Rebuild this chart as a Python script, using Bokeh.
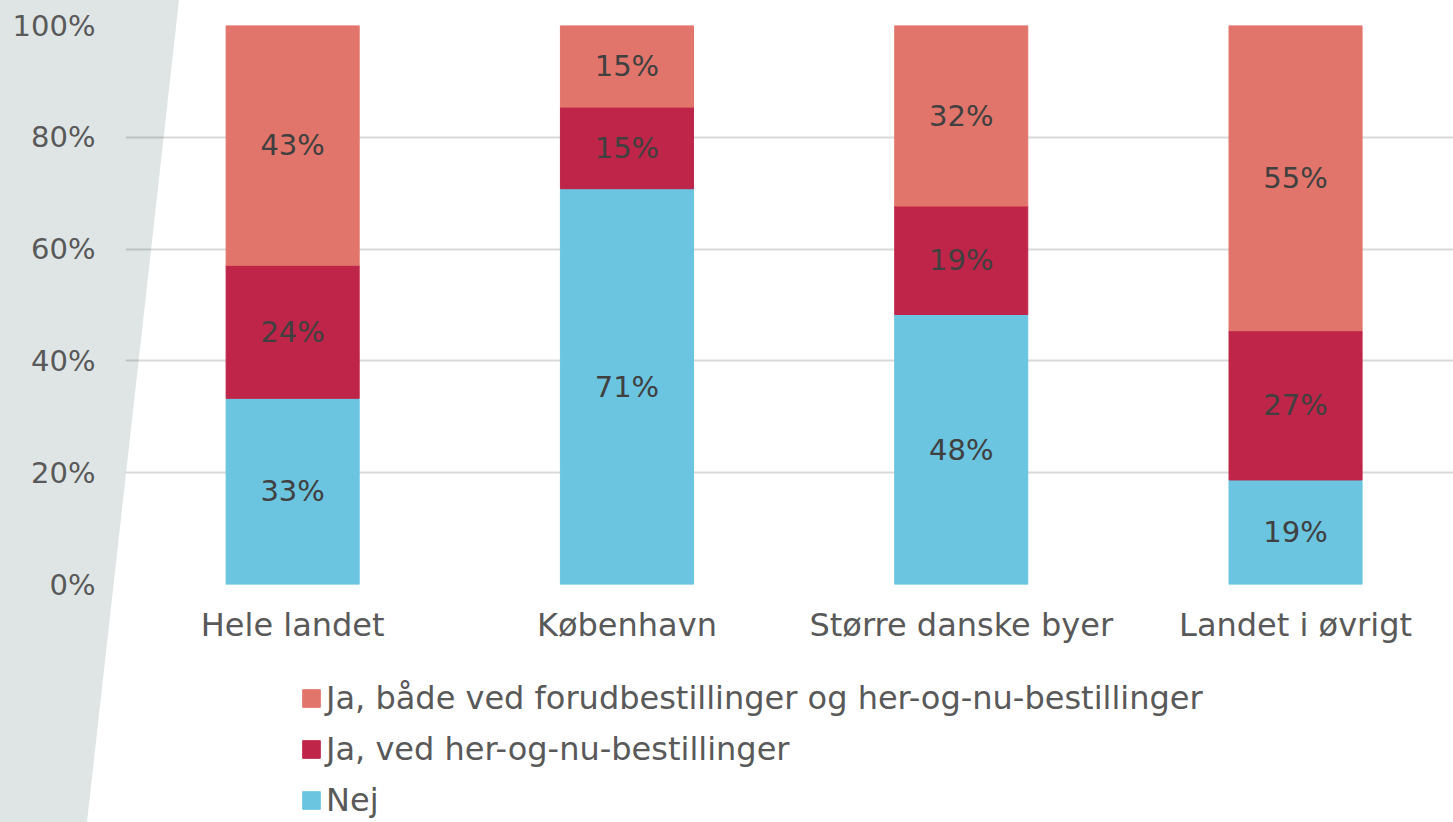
import numpy as np
from bokeh.plotting import figure
from bokeh.layouts import column
from bokeh.models import (Range1d, FixedTicker, PrintfTickFormatter, ColumnDataSource,
                          Legend, LegendItem)
from bokeh.core.properties import value
from bokeh.embed import file_html
from bokeh.resources import INLINE

categories = ["Hele landet", "København", "Større danske byer", "Landet i øvrigt"]
series_names = ["Ja, både ved forudbestillinger og her-og-nu-bestillinger",
                "Ja, ved her-og-nu-bestillinger", "Nej"]
nej = [33.3, 70.8, 48.3, 18.7]
ja_nu = [23.8, 14.6, 19.4, 26.7]
ja_begge = [42.9, 14.6, 32.3, 54.6]
y_ticks = [0, 20, 40, 60, 80, 100]

C_BEGGE = "#E2756B"
C_NU = "#BE2548"
C_NEJ = "#6BC5E0"
FONT = "DejaVu Sans"
TXT = "#595959"

x = np.arange(len(categories)) + 0.5
src = ColumnDataSource(dict(x=x, nej=nej, ja_nu=ja_nu, ja_begge=ja_begge))

p = figure(frame_width=1328, frame_height=559, output_backend="svg", toolbar_location=None,
           x_range=Range1d(0, 1328 / 334.3), y_range=Range1d(0, 100),
           min_border_left=125, min_border_right=0, min_border_top=25,
           min_border_bottom=86)
p.background_fill_color = None
p.border_fill_color = None
p.outline_line_color = None

renderers = p.vbar_stack(["nej", "ja_nu", "ja_begge"], x="x", width=0.398,
                         color=[C_NEJ, C_NU, C_BEGGE], source=src)

# segment labels
vals = np.array([nej, ja_nu, ja_begge])
bottoms = np.vstack([np.zeros(len(categories)), np.cumsum(vals, axis=0)[:-1]])
mids = bottoms + vals / 2
lx, ly, lt = [], [], []
for s in range(vals.shape[0]):
    for i in range(len(categories)):
        lx.append(x[i]); ly.append(mids[s, i]); lt.append(f"{vals[s, i]:.0f}%")
p.text(x=lx, y=ly, text=lt, text_align="center", text_baseline="middle",
       text_font=value(FONT), text_font_size="29px", text_color="#404040")

# axes
p.yaxis.ticker = FixedTicker(ticks=y_ticks)
p.yaxis.formatter = PrintfTickFormatter(format="%d%%")
p.yaxis.axis_line_color = None
p.yaxis.major_tick_line_color = None
p.yaxis.minor_tick_line_color = None
p.yaxis.major_label_standoff = 24
p.yaxis.major_label_text_font = FONT
p.yaxis.major_label_text_font_size = "29px"
p.yaxis.major_label_text_color = TXT

p.xaxis.ticker = FixedTicker(ticks=list(x))
p.xaxis.major_label_overrides = {float(v): c for v, c in zip(x, categories)}
p.xaxis.axis_line_color = None
p.xaxis.major_tick_line_color = None
p.xaxis.minor_tick_line_color = None
p.xaxis.major_label_standoff = 15
p.xaxis.major_label_text_font = FONT
p.xaxis.major_label_text_font_size = "32px"
p.xaxis.major_label_text_color = TXT

p.xgrid.grid_line_color = None
p.ygrid.ticker = FixedTicker(ticks=y_ticks)
p.ygrid.grid_line_color = "black"
p.ygrid.grid_line_alpha = 0.15
p.ygrid.grid_line_width = 2

# legend strip below the chart (its swatch renderers lie outside its view)
lg = figure(frame_width=1328, frame_height=152, output_backend="svg", toolbar_location=None,
            x_range=Range1d(-10, -9), y_range=Range1d(0, 1),
            min_border_left=125, min_border_right=0, min_border_top=0,
            min_border_bottom=0)
lg.axis.visible = False
lg.grid.visible = False
lg.background_fill_color = None
lg.border_fill_color = None
lg.outline_line_color = None
leg_colors = [C_BEGGE, C_NU, C_NEJ]
leg_values = [ja_begge, ja_nu, nej]
items = []
for name, col, vv in zip(series_names, leg_colors, leg_values):
    r = lg.vbar(x=x, top=vv, width=0.4, color=col)
    items.append(LegendItem(label=name, renderers=[r]))
legend = Legend(items=items, location=(175, 3), orientation="vertical",
                padding=0, margin=0, spacing=13, glyph_width=22, glyph_height=22,
                label_height=22, label_standoff=4, border_line_color=None,
                background_fill_alpha=0, label_text_font=FONT,
                label_text_font_size="32px", label_text_color=TXT)
lg.add_layout(legend, "center")

svg_bg = ("url(\"data:image/svg+xml;utf8,<svg xmlns='http://www.w3.org/2000/svg' "
          "width='1453' height='822'><polygon points='0,0 179,0 87,822 0,822' "
          "fill='%23DFE5E5'/></svg>\")")
layout = column(p, lg, spacing=0)
layout.styles = {"background-image": svg_bg, "background-repeat": "no-repeat",
                 "background-color": "white"}

open("out.html", "w").write(file_html(layout, INLINE))
